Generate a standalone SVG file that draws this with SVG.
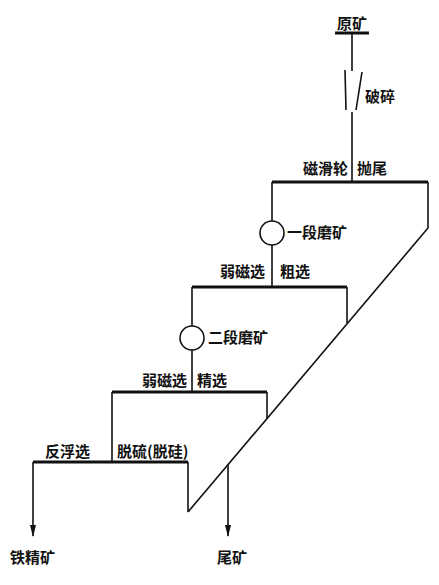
<svg xmlns="http://www.w3.org/2000/svg" width="439" height="585" viewBox="0 0 439 585">
<defs>
<style>
.t{font-family:"Noto Sans CJK SC","Liberation Sans",sans-serif;font-size:15px;font-weight:bold;fill:#111}
.ln{stroke:#111;stroke-width:1.6;fill:none}
.bar{stroke:#111;stroke-width:3;fill:none}
</style>
<marker id="ad" markerWidth="6" markerHeight="12" refX="3" refY="11" orient="0" markerUnits="userSpaceOnUse" viewBox="0 0 6 12">
<path d="M0,0 L6,0 L3,12 Z" fill="#111"/>
</marker>
</defs>
<rect width="439" height="585" fill="#fff"/>
<g id="connectors">
<line class="bar" x1="335" y1="33" x2="369" y2="33"/>
<line class="ln" x1="352" y1="34" x2="352" y2="71"/>
<line class="ln" x1="345" y1="70" x2="346" y2="110"/>
<line class="ln" x1="362" y1="72" x2="356" y2="110"/>
<line class="ln" x1="352" y1="112" x2="352" y2="181"/>
<line class="bar" x1="272" y1="182" x2="428" y2="182"/>
<line class="ln" x1="428" y1="182" x2="428" y2="228"/>
<line class="ln" x1="428" y1="228" x2="188" y2="512"/>
<line class="ln" x1="272" y1="182" x2="272" y2="221"/>
<line class="ln" x1="272" y1="245" x2="272" y2="287"/>
<line class="bar" x1="192" y1="287" x2="347" y2="287"/>
<line class="ln" x1="347" y1="287" x2="347" y2="323"/>
<line class="ln" x1="192" y1="287" x2="192" y2="326"/>
<line class="ln" x1="192" y1="350" x2="192" y2="392"/>
<line class="bar" x1="112" y1="392" x2="267" y2="392"/>
<line class="ln" x1="267" y1="392" x2="267" y2="418"/>
<line class="ln" x1="112" y1="392" x2="112" y2="462"/>
<line class="bar" x1="33" y1="462" x2="188" y2="462"/>
<line class="ln" x1="188" y1="462" x2="188" y2="512"/>
<line class="ln" x1="33" y1="462" x2="33" y2="536" marker-end="url(#ad)"/>
<line class="ln" x1="228" y1="465" x2="228" y2="536" marker-end="url(#ad)"/>
</g>
<g id="n-yuankuang"><text class="t" x="352" y="29" text-anchor="middle">原矿</text></g>
<g id="n-posui"><text class="t" x="365" y="102">破碎</text></g>
<g id="n-cihualun"><text class="t" x="348" y="174" text-anchor="end">磁滑轮</text><text class="t" x="357" y="174">抛尾</text></g>
<g id="n-mo1"><circle cx="272" cy="233" r="12" fill="#fff" stroke="#111" stroke-width="1.6"/><text class="t" x="287" y="238">一段磨矿</text></g>
<g id="n-cuxuan"><text class="t" x="265" y="277" text-anchor="end">弱磁选</text><text class="t" x="280" y="277">粗选</text></g>
<g id="n-mo2"><circle cx="192" cy="338" r="12" fill="#fff" stroke="#111" stroke-width="1.6"/><text class="t" x="208" y="343">二段磨矿</text></g>
<g id="n-jingxuan"><text class="t" x="187" y="386" text-anchor="end">弱磁选</text><text class="t" x="197" y="386">精选</text></g>
<g id="n-fanfu"><text class="t" x="90" y="457" text-anchor="end">反浮选</text><text class="t" x="117" y="457">脱硫(脱硅)</text></g>
<g id="n-tiejing"><text class="t" x="10" y="563">铁精矿</text></g>
<g id="n-weikuang"><text class="t" x="217" y="563">尾矿</text></g>
</svg>
